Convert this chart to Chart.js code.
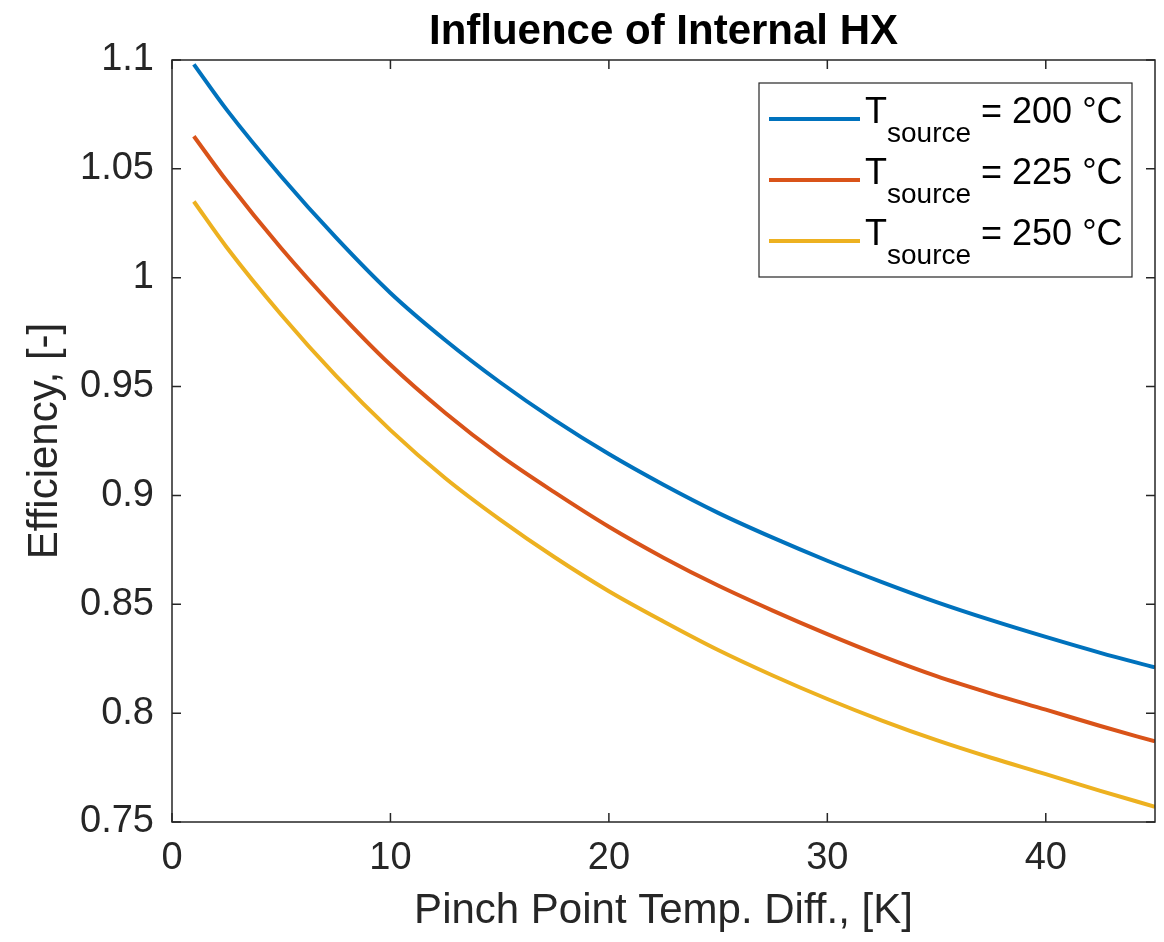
<!DOCTYPE html>
<html>
<head>
<meta charset="utf-8">
<script src="https://cdn.jsdelivr.net/npm/chart.js@4.4.0/dist/chart.umd.min.js"></script>
<style>
  html, body { margin: 0; padding: 0; background: #fff; }
  #wrap { width: 1164px; height: 942px; }
</style>
</head>
<body>
<div id="wrap"><canvas id="myChart" width="1164" height="942"></canvas></div>
<script>
// pinch point temperature difference [K]
var pinchDiff = [1, 2.5, 5, 7.5, 10, 12.5, 15, 17.5, 20, 22.5, 25, 27.5, 30, 32.5, 35, 37.5, 40, 42.5, 45];
// efficiency [-] for each source temperature
var eff200 = [1.098, 1.0772, 1.0465, 1.0185, 0.993, 0.9714, 0.9521, 0.9347, 0.919, 0.9049, 0.892, 0.8806, 0.870, 0.8602, 0.851, 0.8427, 0.835, 0.8277, 0.821];
var eff225 = [1.065, 1.0445, 1.0135, 0.9855, 0.960, 0.938, 0.9185, 0.9015, 0.8856, 0.8714, 0.8586, 0.8471, 0.8363, 0.8262, 0.817, 0.809, 0.8016, 0.7941, 0.787];
var eff250 = [1.035, 1.014, 0.983, 0.955, 0.930, 0.908, 0.889, 0.8717, 0.856, 0.8421, 0.829, 0.8173, 0.8065, 0.7966, 0.7876, 0.7795, 0.772, 0.7643, 0.757];
var sourceTemps = ['200', '225', '250'];
var xTicks = [0, 10, 20, 30, 40];
var yTicks = [0.75, 0.8, 0.85, 0.9, 0.95, 1, 1.05, 1.1];
var chartTitle = 'Influence of Internal HX';

var colors = ['#0072BD', '#D95319', '#EDB120'];
var series = [eff200, eff225, eff250];
var fontFamily = '"Liberation Sans", Arial, sans-serif';

function toPoints(xs, ys) {
  return xs.map(function(x, i) { return { x: x, y: ys[i] }; });
}

var datasets = series.map(function(s, i) {
  return {
    label: 'T source = ' + sourceTemps[i] + ' °C',
    data: toPoints(pinchDiff, s),
    borderColor: colors[i],
    backgroundColor: colors[i],
    borderWidth: 4,
    pointRadius: 0,
    fill: false,
    cubicInterpolationMode: 'monotone'
  };
});

// title over the axes, box, inward ticks and legend with subscripts (MATLAB look)
var matlabFrame = {
  id: 'matlabFrame',
  afterDatasetsDraw: function(chart) {
    var ctx = chart.ctx, a = chart.chartArea;
    var xs = chart.scales.x, ys = chart.scales.y;
    ctx.save();

    ctx.fillStyle = '#000';
    ctx.textAlign = 'center';
    ctx.textBaseline = 'alphabetic';
    ctx.font = 'bold 42px ' + fontFamily;
    ctx.fillText(chartTitle, (a.left + a.right) / 2, 44);

    ctx.strokeStyle = '#262626';
    ctx.lineWidth = 1.5;
    ctx.strokeRect(a.left, a.top, a.right - a.left, a.bottom - a.top);
    ctx.beginPath();
    xTicks.forEach(function(v) {
      var px = xs.getPixelForValue(v);
      ctx.moveTo(px, a.bottom); ctx.lineTo(px, a.bottom - 9);
      ctx.moveTo(px, a.top); ctx.lineTo(px, a.top + 9);
    });
    yTicks.forEach(function(v) {
      var py = ys.getPixelForValue(v);
      ctx.moveTo(a.left, py); ctx.lineTo(a.left + 9, py);
      ctx.moveTo(a.right, py); ctx.lineTo(a.right - 9, py);
    });
    ctx.stroke();

    // legend
    var bw = 373, bh = 194;
    var bx = a.right - 23 - bw, by = a.top + 23;
    ctx.fillStyle = '#fff';
    ctx.fillRect(bx, by, bw, bh);
    ctx.strokeStyle = '#262626';
    ctx.lineWidth = 1.2;
    ctx.strokeRect(bx, by, bw, bh);
    chart.data.datasets.forEach(function(ds, i) {
      var ly = by + 36 + i * 61;
      ctx.strokeStyle = ds.borderColor;
      ctx.lineWidth = 4;
      ctx.beginPath();
      ctx.moveTo(bx + 10, ly);
      ctx.lineTo(bx + 101, ly);
      ctx.stroke();
      ctx.fillStyle = '#000';
      ctx.textBaseline = 'alphabetic';
      ctx.textAlign = 'left';
      var tx = bx + 106;
      ctx.font = '36px ' + fontFamily;
      ctx.fillText('T', tx, ly + 4);
      tx += ctx.measureText('T').width;
      ctx.font = '28px ' + fontFamily;
      ctx.fillText('source', tx, ly + 23);
      tx += ctx.measureText('source').width;
      ctx.font = '36px ' + fontFamily;
      ctx.fillText(' = ' + sourceTemps[i] + ' °C', tx, ly + 4);
    });
    ctx.restore();
  }
};

var ctx = document.getElementById('myChart').getContext('2d');
var chart = new Chart(ctx, {
  type: 'line',
  data: { datasets: datasets },
  plugins: [matlabFrame],
  options: {
    responsive: false,
    animation: false,
    devicePixelRatio: 1,
    layout: { padding: { left: 0, right: 9, top: 60, bottom: 0 } },
    plugins: {
      legend: { display: false },
      tooltip: { enabled: false },
      title: { display: false }
    },
    scales: {
      x: {
        type: 'linear',
        min: 0,
        max: 45,
        afterBuildTicks: function(scale) {
          scale.ticks = xTicks.map(function(v) { return { value: v }; });
        },
        afterFit: function(scale) { scale.height = 120; },
        grid: { display: false, drawTicks: false },
        border: { display: false },
        ticks: {
          color: '#262626',
          padding: 14,
          maxRotation: 0,
          font: { family: fontFamily, size: 38 }
        },
        title: {
          display: true,
          text: 'Pinch Point Temp. Diff., [K]',
          color: '#262626',
          font: { family: fontFamily, size: 42, lineHeight: 1.2 },
          padding: { top: 0, bottom: 5 }
        }
      },
      y: {
        type: 'linear',
        min: 0.75,
        max: 1.1,
        afterBuildTicks: function(scale) {
          scale.ticks = yTicks.map(function(v) { return { value: v }; });
        },
        afterFit: function(scale) { scale.width = 172; },
        grid: { display: false, drawTicks: false },
        border: { display: false },
        ticks: {
          color: '#262626',
          padding: 18,
          font: { family: fontFamily, size: 38 },
          callback: function(v) { return String(Number(v.toFixed(2))); }
        },
        title: {
          display: true,
          text: 'Efficiency, [-]',
          color: '#262626',
          font: { family: fontFamily, size: 42, lineHeight: 1.2 },
          padding: { top: 20, bottom: 0 }
        }
      }
    }
  }
});
</script>
</body>
</html>
